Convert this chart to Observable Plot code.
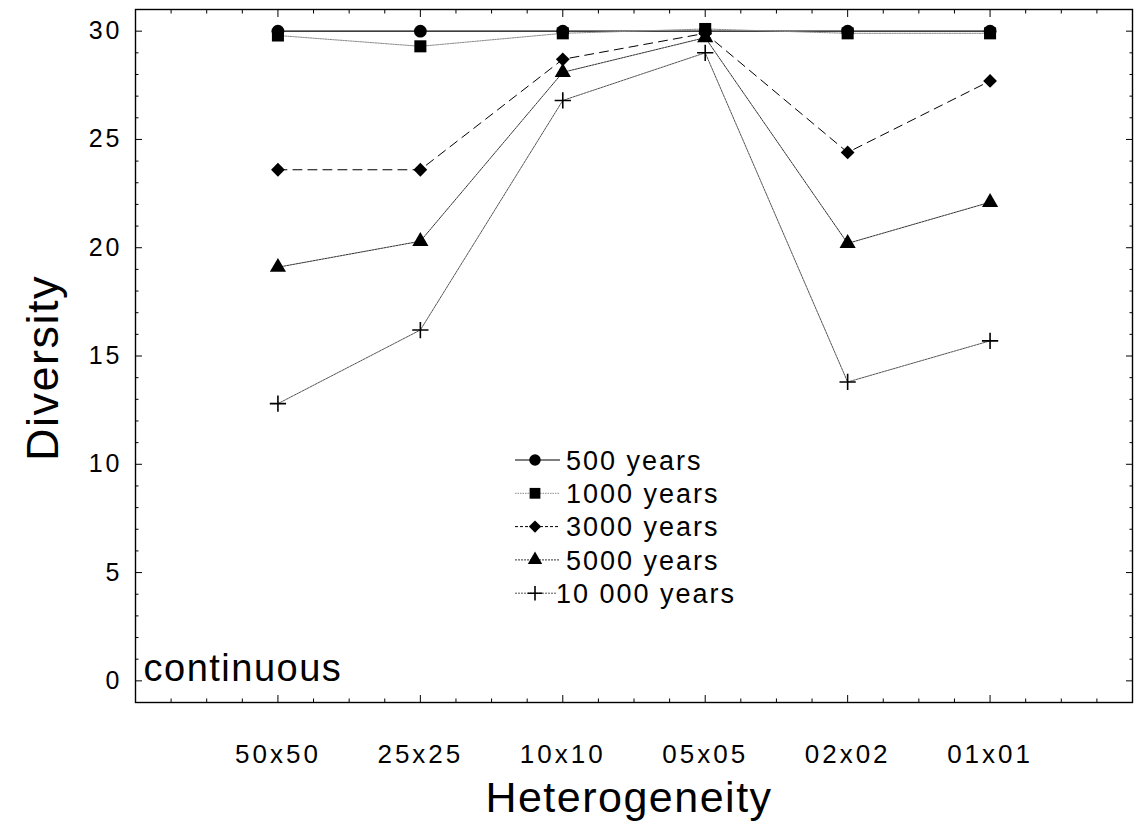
<!DOCTYPE html>
<html>
<head>
<meta charset="utf-8">
<script src="https://cdn.jsdelivr.net/npm/d3@7"></script>
<script src="https://cdn.jsdelivr.net/npm/@observablehq/plot@0.6"></script>
<style>
  html, body { margin: 0; padding: 0; background: #fff; }
  #chart svg { display: block; font-family: "Liberation Sans", Arial, sans-serif; }
  #chart g[aria-label="x-axis tick label"] text { letter-spacing: 3px; }
  #chart g[aria-label="y-axis tick label"] text { letter-spacing: 3px; }
  #chart g[aria-label="text"] text { letter-spacing: 1.5px; }
</style>
</head>
<body>
<div id="chart"></div>
<script>
// ---- data ----
const categories = ["50x50", "25x25", "10x10", "05x05", "02x02", "01x01"];
const seriesNames = ["500 years", "1000 years", "3000 years", "5000 years", "10 000 years"];
const v500   = [30.0, 30.0, 30.0, 30.0, 30.0, 30.0];
const v1000  = [29.8, 29.3, 29.9, 30.1, 29.9, 29.9];
const v3000  = [23.6, 23.6, 28.7, 29.9, 24.4, 27.7];
const v5000  = [19.1, 20.3, 28.1, 29.7, 20.2, 22.1];
const v10000 = [12.8, 16.2, 26.8, 29.0, 13.8, 15.7];
const yTicks = [0, 5, 10, 15, 20, 25, 30];
const yLabel = "Diversity";
const xLabel = "Heterogeneity";
const note = "continuous";

// ---- styles (not data) ----
const styles = [
  {symbol: "circle",   r: 6.4, stroke: "#000", dash: null,    width: 1.2, legendDash: null},
  {symbol: "square",   r: 6.8, stroke: "#8a8a8a", dash: "1.5,1", width: 1, legendDash: "1.5,1"},
  {symbol: "diamond2", r: 6.2, stroke: "#000", dash: "9,6",   width: 1, legendDash: "3,2"},
  {symbol: "triangle", r: 6.0, stroke: "#333", dash: "2,1",   width: 1, legendDash: "2,1"},
  {symbol: "plus",     r: 5.3, stroke: "#555", dash: "2,1",   width: 1, legendDash: "2,1"}
];
const allValues = [v500, v1000, v3000, v5000, v10000];
const tidy = allValues.map((vals, s) =>
  vals.map((v, i) => ({series: seriesNames[s], i, v})));

const font = "'Liberation Sans', Arial, sans-serif";
const yMinor = d3.range(0, 31).filter(d => d % 5 !== 0);
const xMajor = d3.range(0, categories.length);
const xMinor = d3.range(-1, 6.001, 0.25).filter(d => d > -1 && d < 6 && d % 1 !== 0);

const d3Symbols = {circle: d3.symbolCircle, square: d3.symbolSquare, diamond2: d3.symbolDiamond2, triangle: d3.symbolTriangle, plus: d3.symbolPlus};

function legendMark(index, scales, values, dimensions) {
  const g = d3.create("svg:g").attr("font-family", font).attr("font-size", 27)
    .attr("text-anchor", "start").attr("aria-label", "legend");
  const x0 = dimensions.marginLeft + 380, y0 = dimensions.marginTop + 451, rowH = 33.3;
  seriesNames.forEach((name, k) => {
    const st = styles[k];
    const y = y0 + k * rowH;
    const last = k === seriesNames.length - 1;
    g.append("line").attr("x1", x0).attr("x2", x0 + (last ? 42 : 45)).attr("y1", y).attr("y2", y)
      .attr("stroke", st.stroke).attr("stroke-width", st.width)
      .attr("stroke-dasharray", st.legendDash);
    const isPlus = st.symbol === "plus";
    g.append("path").attr("transform", `translate(${x0 + 20},${y})`)
      .attr("d", d3.symbol(d3Symbols[st.symbol], Math.PI * st.r * st.r * 0.8)())
      .attr("fill", isPlus ? "none" : "#000").attr("stroke", isPlus ? "#000" : "none").attr("stroke-width", 1.6);
    g.append("text").attr("x", x0 + (last ? 41 : 51)).attr("y", y).attr("dy", "0.36em")
      .attr("text-anchor", "start").attr("letter-spacing", "2px")
      .attr("fill", "#000").text(name);
  });
  return g.node();
}

const marks = [];
// lines
tidy.forEach((d, s) => {
  marks.push(Plot.line(d, {x: "i", y: "v", stroke: styles[s].stroke, strokeWidth: styles[s].width,
    strokeDasharray: styles[s].dash}));
});
// markers
tidy.forEach((d, s) => {
  const st = styles[s];
  const isPlus = st.symbol === "plus";
  marks.push(Plot.dot(d, {x: "i", y: "v", symbol: st.symbol, r: st.r,
    fill: isPlus ? "none" : "#000", stroke: isPlus ? "#000" : "none", strokeWidth: 1.6}));
});
// frame
marks.push(Plot.frame({stroke: "#000", strokeWidth: 1.4}));
// y axis labels + inward ticks (left and right)
marks.push(Plot.axisY({anchor: "left", ticks: yTicks, tickSize: 0, tickPadding: 13, fontSize: 25,
  label: null, fill: "#000", tickFormat: d => String(d)}));
for (const a of ["left", "right"]) {
  marks.push(Plot.axisY({anchor: a, ticks: yTicks, tickSize: -7, tickFormat: () => "", label: null, stroke: "#000"}));
  marks.push(Plot.axisY({anchor: a, ticks: yMinor, tickSize: -3.5, tickFormat: () => "", label: null, stroke: "#000"}));
}
// x axis labels + inward ticks (top and bottom)
marks.push(Plot.axisX({anchor: "bottom", ticks: xMajor, tickSize: 0, tickPadding: 42, fontSize: 26,
  label: null, fill: "#000", tickFormat: i => categories[i]}));
for (const a of ["top", "bottom"]) {
  marks.push(Plot.axisX({anchor: a, ticks: xMajor, tickSize: -7, tickFormat: () => "", label: null, stroke: "#000"}));
  marks.push(Plot.axisX({anchor: a, ticks: xMinor, tickSize: -3.5, tickFormat: () => "", label: null, stroke: "#000"}));
}
// titles and annotation
marks.push(Plot.text([yLabel], {text: d => d, frameAnchor: "left", dx: -92, dy: 12, rotate: -90,
  fontSize: 45, textAnchor: "middle", lineAnchor: "middle", fill: "#000"}));
marks.push(Plot.text([xLabel], {text: d => d, frameAnchor: "bottom", dx: -5, dy: 96,
  fontSize: 43, textAnchor: "middle", lineAnchor: "middle", fill: "#000"}));
marks.push(Plot.text([note], {text: d => d, frameAnchor: "bottom-left", dx: 8, dy: -34,
  fontSize: 38, textAnchor: "start", lineAnchor: "middle", fill: "#000"}));
marks.push(legendMark);

const chart = Plot.plot({
  width: 1148,
  height: 825,
  marginLeft: 135,
  marginRight: 16,
  marginTop: 9,
  marginBottom: 123,
  style: {fontFamily: font, background: "#fff", color: "#000"},
  x: {type: "linear", domain: [-1, 6], label: null},
  y: {type: "linear", domain: [-1, 31], label: null},
  marks
});
document.getElementById("chart").appendChild(chart);
</script>
</body>
</html>
